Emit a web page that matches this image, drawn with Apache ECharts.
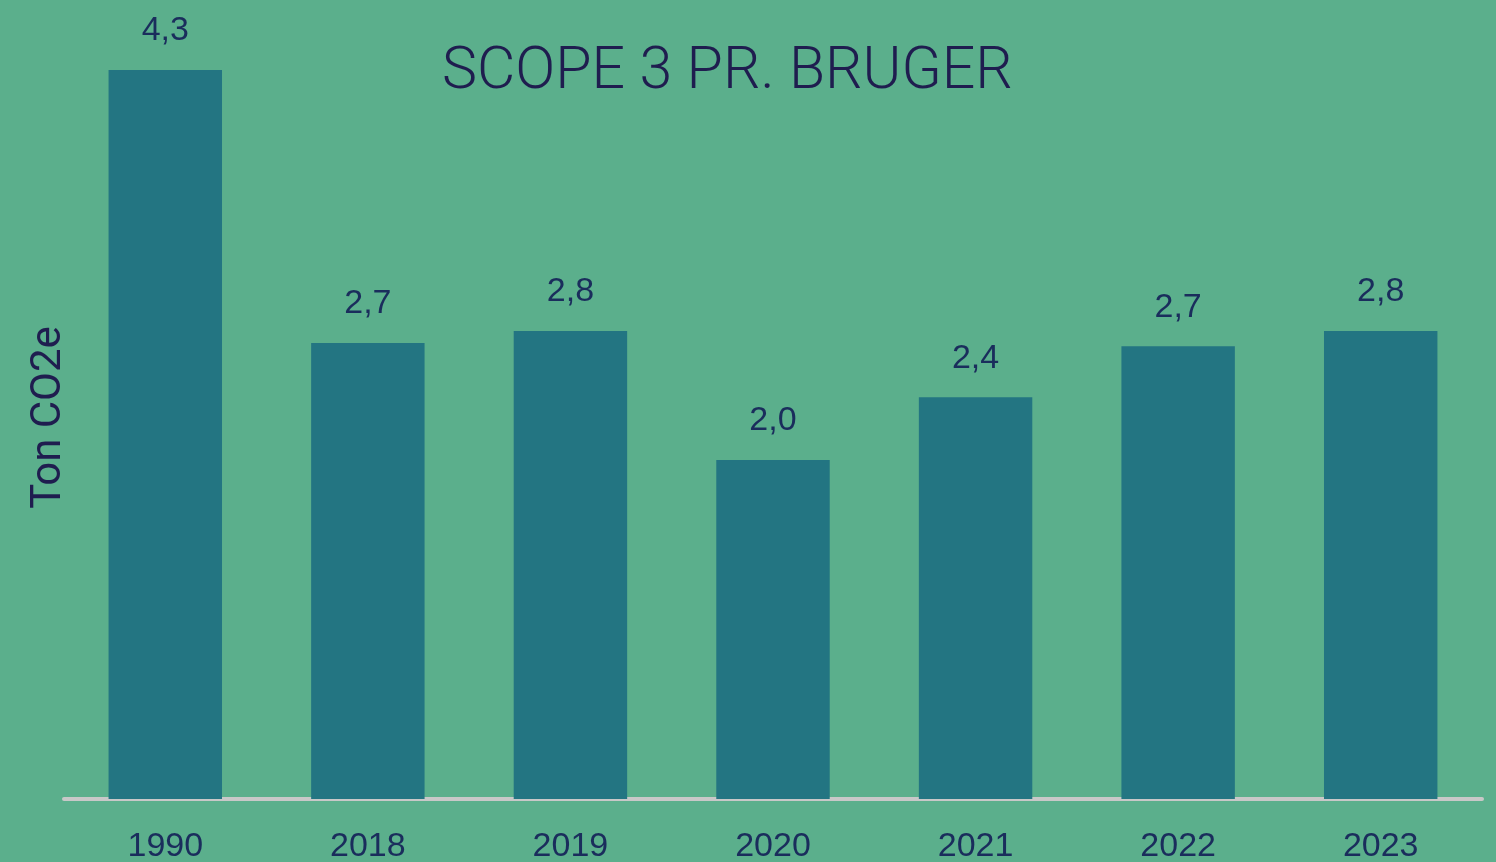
<!DOCTYPE html>
<html>
<head>
<meta charset="utf-8">
<script src="https://cdn.jsdelivr.net/npm/echarts@6/dist/echarts.min.js"></script>
<style>
  html, body { margin: 0; padding: 0; background: #5baf8c; }
  #chart { width: 1496px; height: 862px; }
</style>
</head>
<body>
<div id="chart"></div>
<script>
const years = ['1990', '2018', '2019', '2020', '2021', '2022', '2023'];
const tonPerUser = [4.3, 2.69, 2.76, 2.0, 2.37, 2.67, 2.76];

const chart = echarts.init(document.getElementById('chart'));
chart.setOption({
  backgroundColor: '#5baf8c',
  animation: false,
  title: {
    text: 'SCOPE 3 PR. BRUGER',
    left: 437,
    top: 39,
    textStyle: {
      color: '#1f1d4f',
      fontFamily: 'Roboto',
      fontWeight: 300,
      fontSize: 59
    }
  },
  grid: { left: 64, right: 14, top: 36, bottom: 63, outerBoundsMode: 'none', containLabel: false },
  xAxis: {
    type: 'category',
    data: years,
    axisTick: { show: false },
    axisLine: { lineStyle: { color: '#c8c8c8', width: 4 } },
    axisLabel: {
      color: '#1a2d5c',
      fontFamily: 'Liberation Sans',
      fontSize: 34,
      margin: 31
    }
  },
  yAxis: {
    type: 'value',
    min: 0,
    max: 4.5,
    name: 'Ton CO2e',
    nameLocation: 'middle',
    nameRotate: 90,
    nameGap: -6,
    nameTextStyle: {
      color: '#1f1d4f',
      fontFamily: 'Roboto',
      fontSize: 42
    },
    axisLine: { show: false },
    axisTick: { show: false },
    axisLabel: { show: false },
    splitLine: { show: false }
  },
  series: [{
    type: 'bar',
    data: tonPerUser,
    barWidth: '56%',
    itemStyle: { color: '#237582' },
    label: {
      show: true,
      position: 'top',
      distance: 22,
      color: '#1a2d5c',
      fontFamily: 'Liberation Sans',
      fontSize: 34,
      formatter: p => p.value.toFixed(1).replace('.', ',')
    }
  }]
});
</script>
</body>
</html>
